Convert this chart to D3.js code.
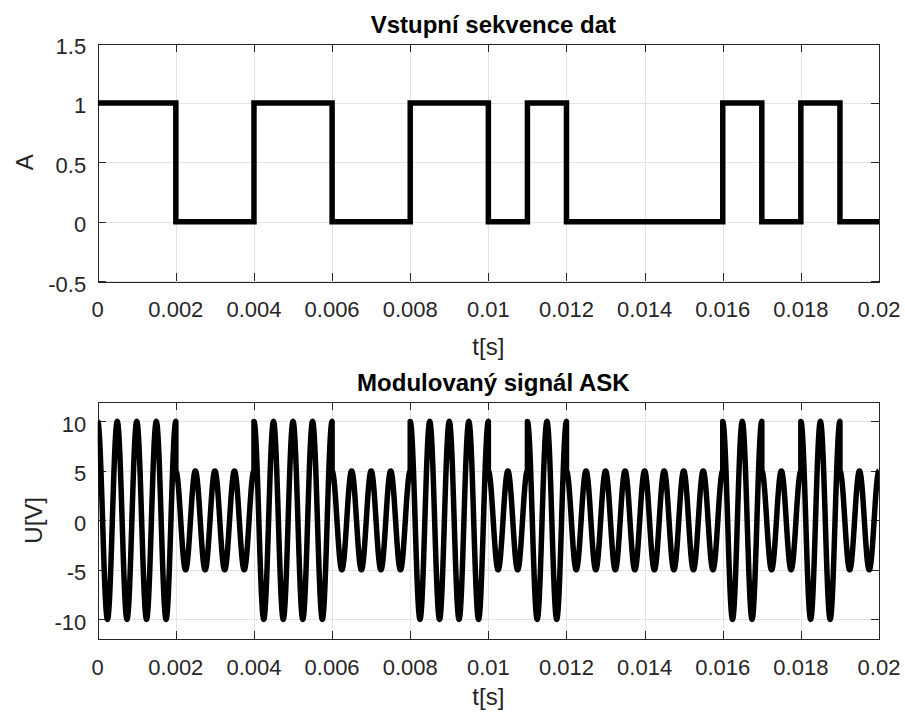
<!DOCTYPE html>
<meta charset="utf-8">
<style>
body { margin: 0; background: #fff; }
svg { display: block; font-family: "Liberation Sans", Arial, Helvetica, sans-serif; }
.grid line { stroke: #e3e3e3; stroke-width: 1; shape-rendering: crispEdges; }
.box { fill: none; stroke: #262626; stroke-width: 1; shape-rendering: crispEdges; }
.tick { stroke: #262626; stroke-width: 1; shape-rendering: crispEdges; }
.ticklabel { fill: #262626; font-size: 22px; }
.label { fill: #262626; font-size: 24px; }
.title { fill: #000; font-size: 24px; font-weight: bold; }
.sig { fill: none; stroke: #000; stroke-width: 5.5; }
</style>
<svg width="905" height="715"></svg>
<script src="https://d3js.org/d3.v7.min.js"></script>
<script>

// data bits, one per bit period
var bits = [1, 1, 0, 0, 1, 1, 0, 0, 1, 1, 0, 1, 0, 0, 0, 0, 1, 0, 1, 0];
var bitTime = 0.001;          // s
var ampForBit = [5, 10];      // ASK amplitude for bit 0 / bit 1  [V]
var carrierFreq = 2000;       // Hz
var samplesPerBit = 200;

var xTicks = [0, 0.002, 0.004, 0.006, 0.008, 0.01, 0.012, 0.014, 0.016, 0.018, 0.02];
var xTickLabels = ["0", "0.002", "0.004", "0.006", "0.008", "0.01", "0.012", "0.014", "0.016", "0.018", "0.02"];
var yTicksTop = [-0.5, 0, 0.5, 1, 1.5];
var yTickLabelsTop = ["-0.5", "0", "0.5", "1", "1.5"];
var yTicksBottom = [-10, -5, 0, 5, 10];
var yTickLabelsBottom = ["-10", "-5", "0", "5", "10"];

var svg = d3.select("svg");

// step points for the bit sequence
var stepPts = bits.map(function(b, i) { return [i * bitTime, b]; });
stepPts.push([bits.length * bitTime, bits[bits.length - 1]]);

// ASK samples, each bit from its start to its end
var askPts = [];
bits.forEach(function(b, i) {
  var A = ampForBit[b];
  for (var k = 0; k <= samplesPerBit; k++) {
    var t = i * bitTime + k * bitTime / samplesPerBit;
    askPts.push([t, A * Math.cos(2 * Math.PI * carrierFreq * t)]);
  }
});

function panel(cfg) {
  var x = d3.scaleLinear().domain([0, 0.02]).range([cfg.left, cfg.right]);
  var y = d3.scaleLinear().domain(cfg.ydom).range([cfg.bottom, cfg.top]);
  var g = svg.append("g");

  // grid
  var grid = g.append("g").attr("class", "grid");
  grid.selectAll(".gx").data(xTicks).enter().append("line")
      .attr("x1", function(d) { return Math.round(x(d)) + 0.5; })
      .attr("x2", function(d) { return Math.round(x(d)) + 0.5; })
      .attr("y1", cfg.top).attr("y2", cfg.bottom);
  grid.selectAll(".gy").data(cfg.yticks).enter().append("line")
      .attr("y1", function(d) { return Math.round(y(d)) + 0.5; })
      .attr("y2", function(d) { return Math.round(y(d)) + 0.5; })
      .attr("x1", cfg.left).attr("x2", cfg.right);

  // box + ticks
  g.append("rect").attr("class", "box")
      .attr("x", Math.round(cfg.left) + 0.5).attr("y", Math.round(cfg.top) + 0.5)
      .attr("width", Math.round(cfg.right - cfg.left)).attr("height", Math.round(cfg.bottom - cfg.top));
  var tl = 8;
  xTicks.forEach(function(d) {
    var px = Math.round(x(d)) + 0.5;
    g.append("line").attr("class", "tick").attr("x1", px).attr("x2", px).attr("y1", cfg.bottom).attr("y2", cfg.bottom - tl);
    g.append("line").attr("class", "tick").attr("x1", px).attr("x2", px).attr("y1", cfg.top).attr("y2", cfg.top + tl);
  });
  cfg.yticks.forEach(function(d) {
    var py = Math.round(y(d)) + 0.5;
    g.append("line").attr("class", "tick").attr("y1", py).attr("y2", py).attr("x1", cfg.left).attr("x2", cfg.left + tl);
    g.append("line").attr("class", "tick").attr("y1", py).attr("y2", py).attr("x1", cfg.right).attr("x2", cfg.right - tl);
  });

  // tick labels
  g.selectAll(".xl").data(xTicks).enter().append("text")
      .attr("class", "ticklabel")
      .attr("x", function(d) { return x(d); })
      .attr("y", cfg.bottom + 35.5)
      .attr("text-anchor", "middle")
      .text(function(d, i) { return xTickLabels[i]; });
  g.selectAll(".yl").data(cfg.yticks).enter().append("text")
      .attr("class", "ticklabel")
      .attr("x", cfg.left - 11.5)
      .attr("y", function(d) { return y(d) + 10.5; })
      .attr("text-anchor", "end")
      .text(function(d, i) { return cfg.ylabels[i]; });

  // labels
  g.append("text").attr("class", "label")
      .attr("x", (cfg.left + cfg.right) / 2).attr("y", cfg.xlabelY)
      .attr("text-anchor", "middle").text("t[s]");
  g.append("text").attr("class", "label")
      .attr("transform", "translate(" + cfg.ylabelX + "," + (cfg.top + cfg.bottom) / 2 + ") rotate(-90)")
      .attr("text-anchor", "middle").text(cfg.ylabel);
  g.append("text").attr("class", "title")
      .attr("x", (cfg.left + cfg.right) / 2 + 5).attr("y", cfg.top - 11)
      .attr("text-anchor", "middle").text(cfg.title);

  // data
  var clipId = "clip" + cfg.id;
  svg.append("clipPath").attr("id", clipId).append("rect")
      .attr("x", cfg.left).attr("y", cfg.top)
      .attr("width", cfg.right - cfg.left).attr("height", cfg.bottom - cfg.top);
  var line = d3.line().x(function(d) { return x(d[0]); }).y(function(d) { return y(d[1]); });
  if (cfg.curve) line.curve(cfg.curve);
  g.append("path").attr("class", "sig")
      .attr("clip-path", "url(#" + clipId + ")")
      .attr("stroke-linejoin", cfg.join)
      .attr("d", line(cfg.data));
}

panel({
  id: 1, left: 97.7, right: 879, top: 43.5, bottom: 281,
  ydom: [-0.5, 1.5], yticks: yTicksTop, ylabels: yTickLabelsTop,
  ylabel: "A", ylabelX: 33, xlabelY: 354.5, title: "Vstupní sekvence dat",
  data: stepPts, curve: d3.curveStepAfter, join: "miter"
});

panel({
  id: 2, left: 97.7, right: 879, top: 401.7, bottom: 639,
  ydom: [-12, 12], yticks: yTicksBottom, ylabels: yTickLabelsBottom,
  ylabel: "U[V]", ylabelX: 42, xlabelY: 705, title: "Modulovaný signál ASK",
  data: askPts, curve: null, join: "round"
});

</script>
